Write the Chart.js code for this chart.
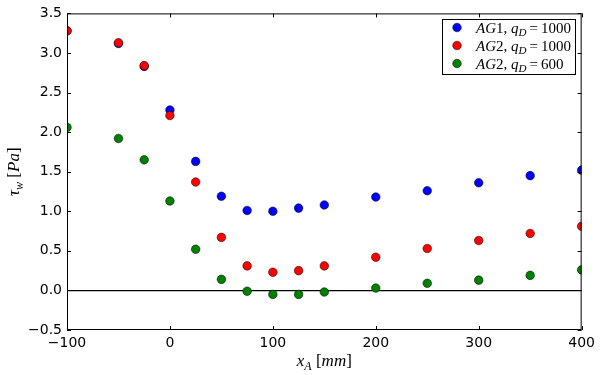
<!DOCTYPE html>
<html>
<head>
<meta charset="utf-8">
<script src="https://cdn.jsdelivr.net/npm/chart.js@4"></script>
<style>
  body { margin: 0; background: #fff; }
</style>
</head>
<body>
<canvas id="chart" width="600" height="375"></canvas>
<script>
// data
const xPositions = [-100, -50, -25, 0, 25, 50, 75, 100, 125, 150, 200, 250, 300, 350, 400];
const ag1Q1000 = [3.28, 3.12, 2.83, 2.28, 1.63, 1.19, 1.01, 1.00, 1.04, 1.08, 1.18, 1.26, 1.36, 1.45, 1.52];
const ag2Q1000 = [3.28, 3.13, 2.84, 2.21, 1.37, 0.67, 0.31, 0.23, 0.25, 0.31, 0.42, 0.53, 0.63, 0.72, 0.81];
const ag2Q600 = [2.06, 1.92, 1.65, 1.13, 0.52, 0.14, -0.01, -0.05, -0.05, -0.02, 0.03, 0.09, 0.13, 0.19, 0.26];
const xTicks = [-100, 0, 100, 200, 300, 400];
const yTicks = [-0.5, 0.0, 0.5, 1.0, 1.5, 2.0, 2.5, 3.0, 3.5];

// legend labels as math pieces: [text, style] with i = italic, n = normal, s = subscript
const seriesLabels = [
  [["AG", "i"], ["1, ", "n"], ["q", "i"], ["D", "s"], ["\u2009=\u20091000", "n"]],
  [["AG", "i"], ["2, ", "n"], ["q", "i"], ["D", "s"], ["\u2009=\u20091000", "n"]],
  [["AG", "i"], ["2, ", "n"], ["q", "i"], ["D", "s"], ["\u2009=\u2009600", "n"]]
];
const xTitle = [["x", "i"], ["A", "s"], [" [", "n"], ["mm", "i"], ["]", "n"]];
const yTitle = [["\u03c4", "i"], ["w", "s"], [" [", "n"], ["Pa", "i"], ["]", "n"]];

const colors = ["#0000ff", "#ff0000", "#008000"];
const serif = "'Liberation Serif', 'DejaVu Serif', serif";

function toPoints(ys) {
  return xPositions.map((x, i) => ({ x: x, y: ys[i] }));
}

function partFont(p, size) {
  if (p[1] === "s") return "italic " + Math.round(size * 0.7) + "px " + serif;
  if (p[1] === "i") return "italic " + size + "px " + serif;
  return size + "px " + serif;
}

function mathWidth(ctx, parts, size) {
  let w = 0;
  parts.forEach(p => { ctx.font = partFont(p, size); w += ctx.measureText(p[0]).width; });
  return w;
}

function drawMath(ctx, parts, x, y, size) {
  ctx.textBaseline = "alphabetic";
  ctx.textAlign = "left";
  parts.forEach(p => {
    ctx.font = partFont(p, size);
    const dy = p[1] === "s" ? size * 0.25 : 0;
    ctx.fillText(p[0], x, y + dy);
    x += ctx.measureText(p[0]).width;
  });
}

function fmtMinus(s) {
  return s.replace("-", "\u2212");
}

const mplPlugin = {
  id: "mpl",
  beforeDraw(chart) {
    const ctx = chart.ctx;
    ctx.save();
    ctx.fillStyle = "#fff";
    ctx.fillRect(0, 0, chart.width, chart.height);
    ctx.restore();
  },
  afterDatasetsDraw(chart) {
    const ctx = chart.ctx;
    const a = chart.chartArea;
    const xs = chart.scales.x, ys = chart.scales.y;
    ctx.save();
    ctx.strokeStyle = "#000";
    ctx.lineWidth = 1;
    // inward ticks on all four sides
    ctx.beginPath();
    xTicks.forEach(v => {
      const px = Math.round(xs.getPixelForValue(v)) + 0.5;
      ctx.moveTo(px, a.bottom); ctx.lineTo(px, a.bottom - 4);
      ctx.moveTo(px, a.top); ctx.lineTo(px, a.top + 4);
    });
    yTicks.forEach(v => {
      const py = Math.round(ys.getPixelForValue(v)) + 0.5;
      ctx.moveTo(a.left, py); ctx.lineTo(a.left + 4, py);
      ctx.moveTo(a.right, py); ctx.lineTo(a.right - 4, py);
    });
    ctx.stroke();
    // frame
    ctx.strokeRect(a.left + 0.5, a.top + 0.5, a.right - a.left - 1, a.bottom - a.top - 1);

    // legend box
    const size = 15;
    const lx = 442, ly = 19, lw = 133, lh = 55;
    ctx.fillStyle = "#fff";
    ctx.fillRect(lx, ly, lw, lh);
    ctx.strokeStyle = "#000";
    ctx.strokeRect(lx + 0.5, ly + 0.5, lw, lh);
    seriesLabels.forEach((parts, i) => {
      const cy = 27.5 + i * 18;
      ctx.beginPath();
      ctx.arc(457, cy, 4.3, 0, Math.PI * 2);
      ctx.fillStyle = colors[i];
      ctx.fill();
      ctx.lineWidth = 0.5;
      ctx.strokeStyle = "#000";
      ctx.stroke();
      ctx.fillStyle = "#000";
      drawMath(ctx, parts, 476, cy + 5, size);
    });

    // axis titles
    const tsize = 17;
    ctx.fillStyle = "#000";
    const wx = mathWidth(ctx, xTitle, tsize);
    drawMath(ctx, xTitle, (a.left + a.right) / 2 - wx / 2, 366, tsize);
    const wy = mathWidth(ctx, yTitle, tsize);
    ctx.translate(19, (a.top + a.bottom) / 2);
    ctx.rotate(-Math.PI / 2);
    drawMath(ctx, yTitle, -wy / 2, 0, tsize);
    ctx.restore();
  }
};

function scatterSet(label, ys, color, order) {
  return {
    label: label,
    data: toPoints(ys),
    backgroundColor: color,
    borderColor: "#000",
    borderWidth: 0.5,
    pointRadius: 4.3,
    pointHoverRadius: 4.3,
    order: order,
    clip: 0
  };
}

new Chart(document.getElementById("chart"), {
  type: "scatter",
  data: {
    datasets: [
      scatterSet("AG1, qD=1000", ag1Q1000, colors[0], 3),
      scatterSet("AG2, qD=1000", ag2Q1000, colors[1], 2),
      scatterSet("AG2, qD=600", ag2Q600, colors[2], 1)
    ]
  },
  options: {
    responsive: false,
    animation: false,
    devicePixelRatio: 1,
    layout: { padding: { top: 11, right: 17, left: 0, bottom: 0 } },
    plugins: { legend: { display: false }, tooltip: { enabled: false } },
    scales: {
      x: {
        type: "linear",
        min: -100, max: 400,
        afterFit(scale) { scale.height = 45; },
        afterBuildTicks(scale) { scale.ticks = xTicks.map(v => ({ value: v })); },
        grid: { display: false, drawTicks: false },
        border: { display: false },
        ticks: {
          color: "#000",
          padding: 5,
          maxRotation: 0,
          font: { family: "'DejaVu Sans'", size: 14 },
          callback: v => fmtMinus(String(v))
        }
      },
      y: {
        min: -0.5, max: 3.5,
        afterFit(scale) { scale.width = 67; },
        afterBuildTicks(scale) { scale.ticks = yTicks.map(v => ({ value: v })); },
        grid: {
          drawTicks: false,
          color: c => (c.tick && Math.abs(c.tick.value) < 1e-9 ? "#000" : "rgba(0,0,0,0)"),
          lineWidth: 1.2
        },
        border: { display: false },
        ticks: {
          color: "#000",
          padding: 5,
          font: { family: "'DejaVu Sans'", size: 14 },
          callback: v => fmtMinus((Math.abs(v) < 1e-9 ? 0 : v).toFixed(1))
        }
      }
    }
  },
  plugins: [mplPlugin]
});
</script>
</body>
</html>
